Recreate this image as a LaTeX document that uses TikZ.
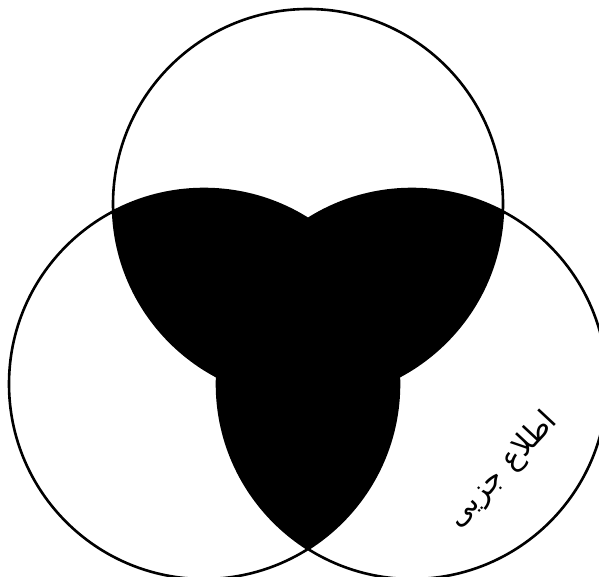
\documentclass[tikz,border=0pt]{standalone}
\usepackage{fontspec}
\newfontfamily\arabicfont[Script=Arabic]{DejaVu Sans}
\TeXXeTstate=1
\begin{document}
\begin{tikzpicture}[x=1pt,y=-1pt,line width=2.6pt]
			\useasboundingbox (0,0) rectangle (599,577);
			\clip (0,0) rectangle (599,577);
			\coordinate (T) at (308,204);
			\coordinate (L) at (204,384);
			\coordinate (R) at (412,384);
			\begin{scope}
				\clip (T) circle (195pt);
				\fill (L) circle (195pt) (R) circle (195pt);
			\end{scope}
			\begin{scope}
				\clip (L) circle (195pt);
				\fill (R) circle (195pt);
			\end{scope}
			\draw (T) circle (195pt) (L) circle (195pt) (R) circle (195pt);
			\node[rotate=47] (lbl) at (503,470) {\arabicfont\fontsize{30}{34}\selectfont\beginR اطلاع جزیی\endR};
	\end{tikzpicture}
\end{document}
